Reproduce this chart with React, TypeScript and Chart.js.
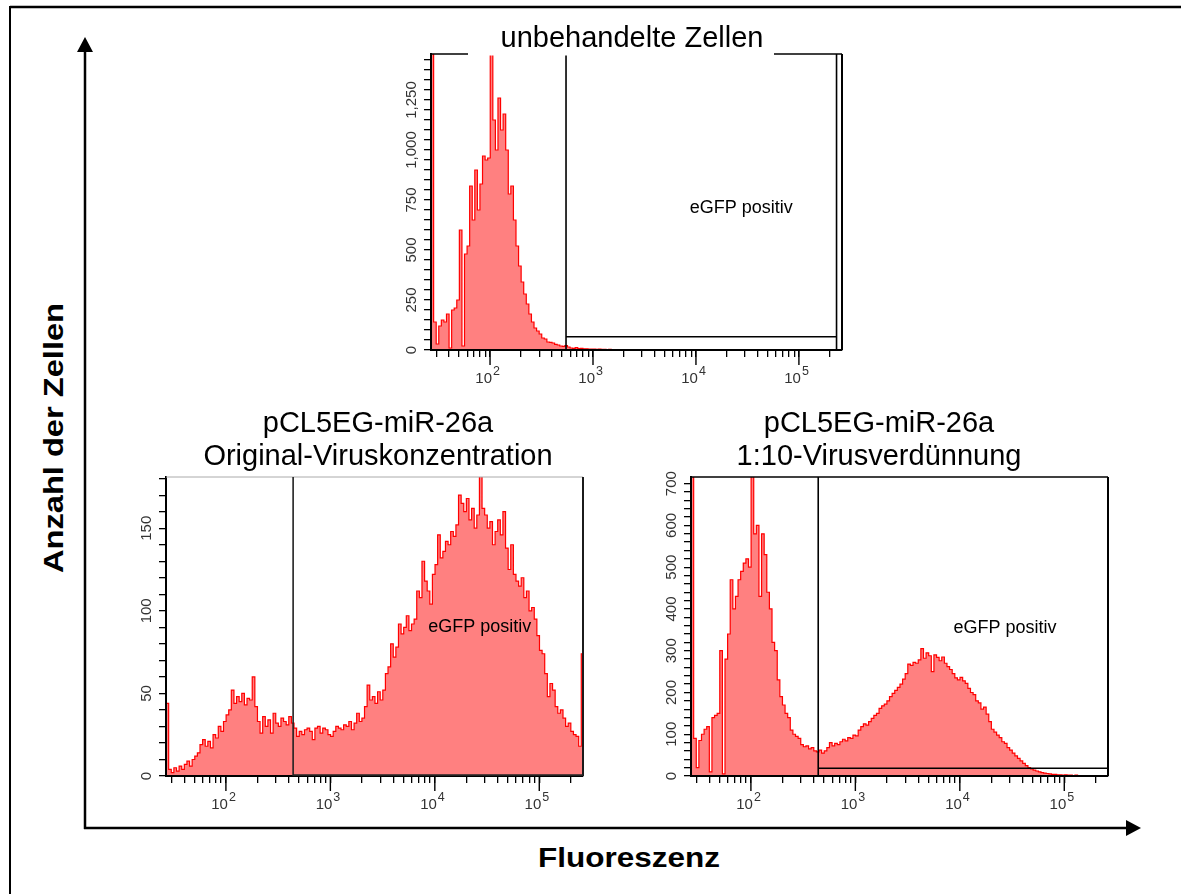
import React, { useEffect, useRef } from 'react';
import { Chart, registerables } from 'chart.js';

Chart.register(...registerables);

const FONT = "'Liberation Sans', Arial, Helvetica, sans-serif";

// Histogram bins on a log10 fluorescence grid
const LOG_START = 1.427;
const LOG_STEP = 0.025;
const X_MIN = 26.7;
const X_MAX = 262144;

const X_TICKS = [
  30, 40, 50, 60, 70, 80, 90, 100, 200, 300, 400, 500, 600, 700, 800, 900,
  1000, 2000, 3000, 4000, 5000, 6000, 7000, 8000, 9000,
  10000, 20000, 30000, 40000, 50000, 60000, 70000, 80000, 90000, 100000, 200000,
];
const X_DECADES = [100, 1000, 10000, 100000];
const X_DECADE_EXP = ['2', '3', '4', '5'];

const TITLE_UNTREATED = ['unbehandelte Zellen'];
const TITLE_ORIGINAL = ['pCL5EG-miR-26a', 'Original-Viruskonzentration'];
const TITLE_DILUTED = ['pCL5EG-miR-26a', '1:10-Virusverdünnung'];
const GATE_LABEL = 'eGFP positiv';
const Y_AXIS_TITLE = 'Anzahl der Zellen';
const X_AXIS_TITLE = 'Fluoreszenz';

// counts per bin (untreated cells)
const UNTREATED_COUNTS = [
  1600, 140, 30, 120, 150, 140, 180, 10, 200, 210,
  250, 600, 20, 480, 520, 820, 650, 900, 700, 830,
  970, 950, 960, 1600, 1150, 1000, 1260, 1100, 1180, 1000,
  780, 820, 650, 520, 420, 340, 280, 230, 180, 140,
  110, 95, 80, 60, 55, 40, 38, 35, 28, 25,
  20, 18, 22, 15, 10, 8, 12, 7, 8, 6,
  6, 5, 4, 5, 3, 4, 3, 3, 2, 3,
  2, 2, 2, 1, 2, 1,
];

// counts per bin (original virus concentration)
const ORIGINAL_COUNTS = [
  44, 4, 2, 5, 3, 6, 4, 7, 9, 6,
  10, 12, 14, 19, 22, 18, 21, 17, 25, 23,
  30, 27, 33, 37, 40, 52, 44, 48, 45, 50,
  43, 47, 46, 60, 42, 33, 26, 36, 30, 34,
  26, 38, 32, 30, 35, 33, 31, 36, 32, 29,
  24, 27, 25, 28, 29, 27, 22, 29, 30, 26,
  29, 28, 25, 24, 27, 30, 29, 28, 31, 30,
  33, 28, 32, 38, 33, 35, 42, 55, 46, 48,
  44, 51, 46, 52, 62, 66, 80, 72, 78, 92,
  86, 90, 97, 88, 92, 95, 112, 108, 130, 118,
  112, 104, 122, 128, 146, 132, 136, 142, 140, 148,
  145, 152, 170, 165, 160, 168, 155, 162, 150, 158,
  182, 162, 158, 150, 154, 140, 148, 155, 146, 160,
  138, 125, 140, 122, 118, 115, 120, 108, 112, 100,
  102, 95, 85, 76, 74, 62, 48, 56, 52, 42,
  38, 40, 35, 30, 32, 27, 25, 24, 18, 74,
];

// counts per bin (1:10 virus dilution)
const DILUTED_COUNTS = [
  800, 90, 20, 85, 100, 112, 118, 10, 140, 145,
  150, 300, 5, 280, 340, 470, 400, 430, 470, 490,
  510, 520, 500, 800, 580, 600, 430, 580, 530, 440,
  400, 320, 300, 230, 190, 170, 150, 140, 110, 100,
  95, 90, 75, 70, 72, 65, 68, 60, 58, 62,
  55, 60, 68, 80, 72, 78, 75, 82, 88, 84,
  92, 90, 98, 96, 110, 118, 125, 122, 130, 138,
  145, 150, 162, 168, 172, 180, 190, 198, 205, 212,
  220, 232, 245, 268, 265, 272, 270, 278, 305, 282,
  295, 288, 250, 290, 284, 276, 285, 270, 262, 255,
  245, 235, 230, 236, 228, 222, 210, 200, 195, 180,
  175, 160, 165, 148, 130, 112, 105, 98, 92, 82,
  78, 68, 62, 55, 48, 42, 36, 30, 25, 20,
  17, 14, 12, 10, 8, 7, 6, 5, 4, 4,
  3, 3, 2, 3, 2, 2, 1, 2, 1, 1, 1, 1, 1,
];

type Panel = {
  counts: number[];
  yMax: number;
  yStep: number;
  yLabelStep: number;
  yLabelPad: number;
  gate: { low: number; high: number; y: number; color: string };
  labelAt: { x: number; y: number };
  titles: string[];
  titleX: number;
  titleBaselines: number[];
  mask?: [number, number, number, number];
  topLine: { color: string; width: number };
  box: { left: number; top: number; width: number; height: number };
  pad: { top: number; right: number; bottom: number };
  yWidth: number;
};

const PANELS: Panel[] = [
  {
    counts: UNTREATED_COUNTS,
    yMax: 1480, yStep: 50, yLabelStep: 250, yLabelPad: -6.5,
    gate: { low: 547, high: 232000, y: 66, color: '#000' },
    labelAt: { x: 8700, y: 710 },
    titles: TITLE_UNTREATED, titleX: 252, titleBaselines: [35],
    mask: [88, 0, 306, 43.5],
    topLine: { color: '#000', width: 1.5 },
    box: { left: 380, top: 12, width: 480, height: 385 },
    pad: { top: 42, right: 18, bottom: 17 },
    yWidth: 51,
  },
  {
    counts: ORIGINAL_COUNTS,
    yMax: 181, yStep: 10, yLabelStep: 50, yLabelPad: -0.2,
    gate: { low: 440, high: X_MAX, y: 0.5, color: '#222' },
    labelAt: { x: 8650, y: 90 },
    titles: TITLE_ORIGINAL, titleX: 273, titleBaselines: [40, 73],
    topLine: { color: '#aaa', width: 1 },
    box: { left: 105, top: 392, width: 505, height: 438 },
    pad: { top: 85, right: 27, bottom: 24 },
    yWidth: 61,
  },
  {
    counts: DILUTED_COUNTS,
    yMax: 716, yStep: 20, yLabelStep: 100, yLabelPad: -0.2,
    gate: { low: 441, high: X_MAX, y: 18.5, color: '#000' },
    labelAt: { x: 8710, y: 354 },
    titles: TITLE_DILUTED, titleX: 249, titleBaselines: [40, 73],
    topLine: { color: '#000', width: 1.5 },
    box: { left: 630, top: 392, width: 505, height: 438 },
    pad: { top: 85, right: 27, bottom: 24 },
    yWidth: 61,
  },
];

function toPoints(counts: number[]) {
  const pts = counts.map((c, i) => ({ x: 10 ** (LOG_START + i * LOG_STEP), y: c }));
  pts.push({ x: 10 ** (LOG_START + counts.length * LOG_STEP), y: 0 });
  return pts;
}

function makeDecor(p: Panel) {
  return {
    id: 'panelDecor',
    afterDraw(chart: any) {
      const { ctx, chartArea: a } = chart;
      const xs = chart.scales.x;
      const ys = chart.scales.y;
      ctx.save();
      // frame top
      ctx.strokeStyle = p.topLine.color;
      ctx.lineWidth = p.topLine.width;
      ctx.beginPath();
      ctx.moveTo(a.left, a.top);
      ctx.lineTo(a.right, a.top);
      ctx.stroke();
      // frame right
      ctx.strokeStyle = '#000';
      ctx.lineWidth = 2;
      ctx.beginPath();
      ctx.moveTo(a.right, a.top);
      ctx.lineTo(a.right, a.bottom);
      ctx.stroke();
      // gate
      const gx1 = xs.getPixelForValue(p.gate.low);
      const gx2 = Math.min(xs.getPixelForValue(p.gate.high), a.right);
      const gy = ys.getPixelForValue(p.gate.y);
      ctx.strokeStyle = p.gate.color;
      ctx.lineWidth = 1.6;
      ctx.beginPath();
      ctx.moveTo(gx1, a.top);
      ctx.lineTo(gx1, a.bottom);
      ctx.moveTo(gx1, gy);
      ctx.lineTo(gx2, gy);
      ctx.moveTo(gx2, a.top);
      ctx.lineTo(gx2, a.bottom);
      ctx.stroke();
      // gate label
      ctx.fillStyle = '#000';
      ctx.font = `18px ${FONT}`;
      ctx.textAlign = 'left';
      ctx.textBaseline = 'middle';
      ctx.fillText(GATE_LABEL, xs.getPixelForValue(p.labelAt.x), ys.getPixelForValue(p.labelAt.y));
      // decade ticks + labels
      ctx.strokeStyle = '#000';
      ctx.lineWidth = 1.4;
      ctx.textBaseline = 'alphabetic';
      X_DECADES.forEach((v, i) => {
        const px = xs.getPixelForValue(v);
        ctx.beginPath();
        ctx.moveTo(px, a.bottom);
        ctx.lineTo(px, a.bottom + 15);
        ctx.stroke();
        ctx.fillStyle = '#333';
        ctx.font = `15px ${FONT}`;
        ctx.textAlign = 'right';
        ctx.fillText('10', px + 2, a.bottom + 33);
        ctx.font = `12.5px ${FONT}`;
        ctx.textAlign = 'left';
        ctx.fillText(X_DECADE_EXP[i], px + 3, a.bottom + 25);
      });
      // title
      if (p.mask) {
        ctx.fillStyle = '#fff';
        ctx.fillRect(p.mask[0], p.mask[1], p.mask[2], p.mask[3]);
      }
      ctx.fillStyle = '#000';
      ctx.font = `29px ${FONT}`;
      ctx.textAlign = 'center';
      p.titles.forEach((t, i) => ctx.fillText(t, p.titleX, p.titleBaselines[i]));
      ctx.restore();
    },
  };
}

function buildChart(canvas: HTMLCanvasElement, p: Panel) {
  return new Chart(canvas, {
    type: 'line',
    data: {
      datasets: [
        {
          data: toPoints(p.counts),
          stepped: true,
          borderColor: '#ff0000',
          borderWidth: 1.2,
          backgroundColor: '#ff8080',
          fill: 'origin',
          pointRadius: 0,
          tension: 0,
        } as any,
      ],
    },
    options: {
      animation: false,
      responsive: false,
      maintainAspectRatio: false,
      events: [],
      layout: { padding: { left: 0, top: p.pad.top, right: p.pad.right, bottom: p.pad.bottom } },
      plugins: { legend: { display: false }, tooltip: { enabled: false }, title: { display: false } },
      scales: {
        x: {
          type: 'logarithmic',
          min: X_MIN,
          max: X_MAX,
          afterBuildTicks: (s: any) => {
            s.ticks = X_TICKS.map((v) => ({ value: v }));
          },
          afterFit: (s: any) => {
            s.height = 30;
          },
          ticks: { display: false },
          grid: { drawOnChartArea: false, drawTicks: true, tickLength: 7, color: '#000', lineWidth: 1.3 },
          border: { display: true, color: '#000', width: 2, z: 1 },
        },
        y: {
          type: 'linear',
          min: 0,
          max: p.yMax,
          afterBuildTicks: (s: any) => {
            const t: { value: number }[] = [];
            for (let v = 0; v <= p.yMax; v += p.yStep) t.push({ value: v });
            s.ticks = t;
          },
          afterFit: (s: any) => {
            s.width = p.yWidth;
          },
          ticks: {
            stepSize: p.yStep,
            autoSkip: false,
            minRotation: 90,
            maxRotation: 90,
            crossAlign: 'center',
            padding: p.yLabelPad,
            color: '#333',
            font: { family: FONT, size: 15 },
            callback: (v: any) => (Number(v) % p.yLabelStep === 0 ? Number(v).toLocaleString('en-US') : ''),
          },
          grid: { drawOnChartArea: false, drawTicks: true, tickLength: 7, color: '#000', lineWidth: 1.3 },
          border: { display: true, color: '#000', width: 2, z: 1 },
        },
      },
    } as any,
    plugins: [makeDecor(p)],
  });
}

export default function App() {
  const refs = [useRef<HTMLCanvasElement>(null), useRef<HTMLCanvasElement>(null), useRef<HTMLCanvasElement>(null)];

  useEffect(() => {
    const charts = PANELS.map((p, i) => buildChart(refs[i].current as HTMLCanvasElement, p));
    return () => charts.forEach((c) => c.destroy());
  }, []);

  return (
    <div style={{ position: 'absolute', left: 0, top: 0, width: 1181, height: 894, background: '#fff', overflow: 'hidden' }}>
      <svg width={1181} height={894} style={{ position: 'absolute', left: 0, top: 0 }}>
        <line x1={10} y1={7} x2={1181} y2={7} stroke="#000" strokeWidth={2.5} />
        <line x1={10} y1={6} x2={10} y2={894} stroke="#000" strokeWidth={2} />
        <line x1={85} y1={829} x2={85} y2={50} stroke="#000" strokeWidth={2.5} />
        <polygon points="85,37 77,52 93,52" fill="#000" />
        <line x1={84} y1={828} x2={1128} y2={828} stroke="#000" strokeWidth={2.5} />
        <polygon points="1141,828 1126,820 1126,836" fill="#000" />
        <text
          x={629}
          y={867}
          textAnchor="middle"
          fontFamily={FONT}
          fontWeight="bold"
          fontSize={28}
          textLength={182}
          lengthAdjust="spacingAndGlyphs"
        >
          {X_AXIS_TITLE}
        </text>
        <text
          transform="translate(63,438) rotate(-90)"
          x={0}
          y={0}
          textAnchor="middle"
          fontFamily={FONT}
          fontWeight="bold"
          fontSize={27}
          textLength={270}
          lengthAdjust="spacingAndGlyphs"
        >
          {Y_AXIS_TITLE}
        </text>
      </svg>
      {PANELS.map((p, i) => (
        <canvas
          key={i}
          ref={refs[i]}
          width={p.box.width}
          height={p.box.height}
          style={{ position: 'absolute', left: p.box.left, top: p.box.top, width: p.box.width, height: p.box.height }}
        />
      ))}
    </div>
  );
}
